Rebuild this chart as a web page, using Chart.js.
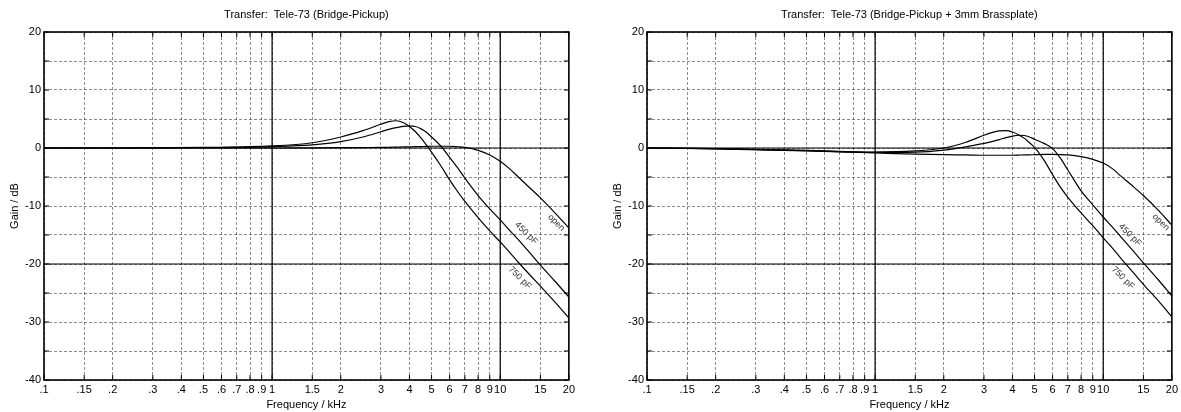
<!DOCTYPE html>
<html>
<head>
<meta charset="utf-8">
<script src="https://cdn.jsdelivr.net/npm/chart.js@4.4.1/dist/chart.umd.min.js"></script>
<style>
    body { margin: 0; background: #fff; width: 1181px; height: 412px; overflow: hidden; position: relative; }
    canvas { position: absolute; top: 0; }
</style>
</head>
<body>
<canvas id="leftChart" width="578" height="412" style="left:0"></canvas>
<canvas id="rightChart" width="578" height="412" style="left:603px"></canvas>
<script>
// 頻率 (kHz)
const freqs = [0.1, 0.2, 0.5, 1, 1.5, 2, 2.5, 3, 3.25, 3.5, 3.75, 4, 4.25, 4.5, 4.75, 5, 5.5, 6, 6.5, 7, 8, 9, 10, 11, 12, 13.5, 15, 17.5, 20];

// 左圖: Bridge-Pickup
const leftOpen = [0, 0, 0, 0, 0.02, 0.05, 0.08, 0.1, 0.12, 0.15, 0.18, 0.2, 0.22, 0.25, 0.27, 0.3, 0.3, 0.3, 0.22, 0.1, -0.4, -1.2, -2.3, -3.6, -5.0, -6.9, -8.6, -11.3, -13.8];
const left450 = [0, 0, 0.05, 0.25, 0.55, 1.1, 1.9, 2.8, 3.2, 3.5, 3.72, 3.8, 3.7, 3.3, 2.7, 1.9, 0.3, -1.6, -3.4, -5.2, -8.2, -10.5, -12.4, -14.2, -15.8, -18.1, -20.2, -23.1, -25.7];
const left750 = [0, 0, 0.1, 0.35, 0.9, 1.9, 3.0, 4.1, 4.55, 4.7, 4.4, 3.7, 2.8, 1.7, 0.5, -0.7, -3.1, -5.5, -7.5, -9.2, -12.0, -14.3, -16.2, -18.0, -19.7, -21.9, -23.8, -26.7, -29.3];

// 右圖: Bridge-Pickup + 3mm Brassplate
const rightOpen = [0, -0.15, -0.5, -0.85, -1.05, -1.15, -1.2, -1.25, -1.25, -1.25, -1.25, -1.25, -1.22, -1.2, -1.17, -1.15, -1.1, -1.1, -1.13, -1.2, -1.5, -1.95, -2.6, -3.6, -4.9, -6.6, -8.2, -10.8, -13.3];
const right450 = [0, -0.1, -0.45, -0.75, -0.7, -0.35, 0.2, 0.8, 1.1, 1.45, 1.8, 2.05, 2.2, 2.15, 1.9, 1.5, 0.8, -0.1, -1.8, -3.8, -7.4, -9.8, -11.9, -13.7, -15.4, -17.7, -19.8, -22.8, -25.5];
const right750 = [0, -0.1, -0.4, -0.7, -0.5, 0.0, 1.0, 2.2, 2.65, 2.95, 3.0, 2.75, 2.3, 1.7, 0.9, 0.1, -2.1, -4.6, -6.8, -8.5, -11.2, -13.4, -15.5, -17.3, -19.1, -21.4, -23.5, -26.4, -29.1];

// 座標軸刻度
const xTickValues = [0.1, 0.15, 0.2, 0.3, 0.4, 0.5, 0.6, 0.7, 0.8, 0.9, 1, 1.5, 2, 3, 4, 5, 6, 7, 8, 9, 10, 15, 20];
const xTickLabels = ['.1', '.15', '.2', '.3', '.4', '.5', '.6', '.7', '.8', '.9', '1', '1.5', '2', '3', '4', '5', '6', '7', '8', '9', '10', '15', '20'];
const majorFreqs = [1, 10];
const majorGains = [0, -20];

// 曲線標籤 (資料座標)
const curveNames = ['open', '450 pF', '750 pF'];
const leftLabelFreq = [17.6, 13.0, 12.2];
const leftLabelGain = [-12.9, -14.7, -22.4];
const rightLabelFreq = [17.9, 13.1, 12.2];
const rightLabelGain = [-12.8, -15.0, -22.4];

const FONT = "'Liberation Sans', Arial, Helvetica, sans-serif";

function toPoints(values) {
    return freqs.map((f, i) => ({ x: f, y: values[i] }));
}

/**
 * 邊框、內向刻度、主格線、曲線標籤
 */
const framePlugin = {
    id: 'frame',
    beforeDatasetsDraw(chart) {
        const { ctx, chartArea: a, scales: { x, y } } = chart;
        const seg = (x1, y1, x2, y2) => {
            ctx.beginPath();
            ctx.moveTo(x1, y1);
            ctx.lineTo(x2, y2);
            ctx.stroke();
        };
        ctx.save();
        ctx.strokeStyle = '#000';
        ctx.lineWidth = 1.2;
        majorFreqs.forEach(v => {
            const px = x.getPixelForValue(v);
            seg(px, a.top, px, a.bottom);
        });
        majorGains.forEach(v => {
            const py = y.getPixelForValue(v);
            seg(a.left, py, a.right, py);
        });
        ctx.lineWidth = 1;
        x.ticks.forEach(t => {
            const px = x.getPixelForValue(t.value);
            seg(px, a.top, px, a.top + 5);
            seg(px, a.bottom - 5, px, a.bottom);
        });
        y.ticks.forEach(t => {
            const py = y.getPixelForValue(t.value);
            seg(a.left, py, a.left + 5, py);
            seg(a.right - 5, py, a.right, py);
        });
        ctx.lineWidth = 1.6;
        ctx.strokeRect(a.left, a.top, a.width, a.height);
        ctx.restore();
    },
    afterDatasetsDraw(chart, args, opts) {
        const { ctx, scales: { x, y } } = chart;
        ctx.save();
        ctx.fillStyle = '#333';
        ctx.font = '9px ' + FONT;
        ctx.textAlign = 'center';
        ctx.textBaseline = 'middle';
        curveNames.forEach((name, i) => {
            ctx.save();
            ctx.translate(x.getPixelForValue(opts.freq[i]), y.getPixelForValue(opts.gain[i]));
            ctx.rotate(45 * Math.PI / 180);
            ctx.fillText(name, 0, 0);
            ctx.restore();
        });
        ctx.restore();
    }
};

function makeChart(id, title, openVals, vals450, vals750, labelFreq, labelGain, padRight) {
    const ctx = document.getElementById(id);
    const lineStyle = {
        borderColor: '#000',
        borderWidth: 1.2,
        pointRadius: 0,
        fill: false,
        cubicInterpolationMode: 'monotone'
    };
    return new Chart(ctx, {
        type: 'line',
        data: {
            datasets: [
                Object.assign({ label: 'open', data: toPoints(openVals) }, lineStyle),
                Object.assign({ label: '450 pF', data: toPoints(vals450) }, lineStyle),
                Object.assign({ label: '750 pF', data: toPoints(vals750) }, lineStyle)
            ]
        },
        options: {
            responsive: false,
            animation: false,
            devicePixelRatio: 1,
            layout: { padding: { left: 0, right: padRight, top: 0, bottom: 0 } },
            plugins: {
                legend: { display: false },
                tooltip: { enabled: false },
                title: {
                    display: true,
                    text: title,
                    fullSize: false,
                    color: '#000',
                    font: { size: 11, family: FONT, weight: 'normal' },
                    padding: { top: 8, bottom: 10.8 }
                },
                frame: { freq: labelFreq, gain: labelGain }
            },
            scales: {
                x: {
                    type: 'logarithmic',
                    min: 0.1,
                    max: 20,
                    afterBuildTicks: scale => {
                        scale.ticks = xTickValues.map(v => ({ value: v }));
                    },
                    afterFit: scale => { scale.height = 32; },
                    grid: {
                        color: 'rgba(0, 0, 0, 0.45)',
                        lineWidth: 1,
                        drawTicks: false
                    },
                    border: { display: false, dash: [3, 2] },
                    ticks: {
                        autoSkip: false,
                        maxRotation: 0,
                        minRotation: 0,
                        padding: 3,
                        color: '#000',
                        font: { size: 11, family: FONT },
                        callback: (value, index) => xTickLabels[index]
                    },
                    title: {
                        display: true,
                        text: 'Frequency / kHz',
                        color: '#000',
                        font: { size: 11, family: FONT },
                        padding: { top: 0, bottom: 0 }
                    }
                },
                y: {
                    min: -40,
                    max: 20,
                    afterFit: scale => { scale.width = 44; },
                    grid: {
                        color: 'rgba(0, 0, 0, 0.45)',
                        lineWidth: 1,
                        drawTicks: false
                    },
                    border: { display: false, dash: [3, 2] },
                    ticks: {
                        stepSize: 5,
                        autoSkip: false,
                        padding: 3,
                        color: '#000',
                        font: { size: 11, family: FONT },
                        callback: v => (v % 10 === 0 ? String(v) : '')
                    },
                    title: {
                        display: true,
                        text: 'Gain / dB',
                        color: '#000',
                        font: { size: 11, family: FONT },
                        padding: { top: 8, bottom: 0 }
                    }
                }
            }
        },
        plugins: [framePlugin]
    });
}

makeChart('leftChart', 'Transfer:  Tele-73 (Bridge-Pickup)', leftOpen, left450, left750, leftLabelFreq, leftLabelGain, 8);
makeChart('rightChart', 'Transfer:  Tele-73 (Bridge-Pickup + 3mm Brassplate)', rightOpen, right450, right750, rightLabelFreq, rightLabelGain, 7);
</script>
</body>
</html>
